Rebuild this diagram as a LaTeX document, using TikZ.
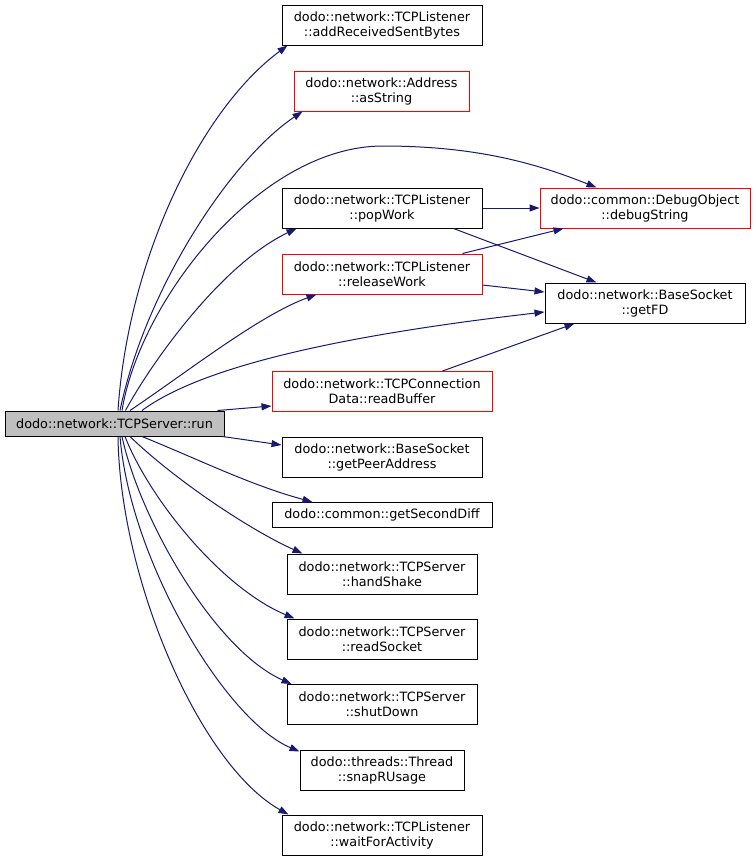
\documentclass[tikz,border=0pt]{standalone}
\usepackage{fontspec}
\setmainfont{DejaVu Sans}
\usetikzlibrary{arrows.meta,calc}
\definecolor{edgecol}{HTML}{191970}
\definecolor{nodered}{HTML}{FF0000}
\definecolor{rungrey}{HTML}{BFBFBF}
\begin{document}
\begin{tikzpicture}[x=0.75pt,y=-0.75pt,
  box/.style={draw=black,line width=0.75pt,inner sep=0pt,minimum height=30pt,align=center,
    font=\fontsize{9.6}{11.25}\selectfont},
  redbox/.style={box,draw=nodered},
  call/.style={draw=edgecol,line width=0.75pt,-{Triangle[length=7.5pt,width=5.25pt]}}]
\fill[white] (0,0) rectangle (756,861);
\useasboundingbox (0,0) rectangle (756,861);

\node[box,fill=rungrey,minimum width=164.25pt,minimum height=18.75pt] (run) at (114.5,423.5) {dodo::network::TCPServer::run};
\node[box,minimum width=150pt] (addr) at (382,25) {dodo::network::TCPListener\\::addReceivedSentBytes};
\node[redbox,minimum width=131.25pt] (asstr) at (381.5,91) {dodo::network::Address\\::asString};
\node[redbox,minimum width=157.5pt] (dbg) at (645,208) {dodo::common::DebugObject\\::debugString};
\node[box,minimum width=150pt] (pop) at (382,208) {dodo::network::TCPListener\\::popWork};
\node[redbox,minimum width=150pt] (rel) at (382,274) {dodo::network::TCPListener\\::releaseWork};
\node[box,minimum width=150pt] (fd) at (645,303) {dodo::network::BaseSocket\\::getFD};
\node[redbox,minimum width=165pt] (rbuf) at (382,391.5) {dodo::network::TCPConnection\\Data::readBuffer};
\node[box,minimum width=150pt] (peer) at (382,457) {dodo::network::BaseSocket\\::getPeerAddress};
\node[box,minimum width=165pt,minimum height=18.75pt] (sec) at (382,515) {dodo::common::getSecondDiff};
\node[box,minimum width=142.5pt] (hs) at (382,574) {dodo::network::TCPServer\\::handShake};
\node[box,minimum width=142.5pt] (rs) at (382,639) {dodo::network::TCPServer\\::readSocket};
\node[box,minimum width=142.5pt] (sd) at (382,704.5) {dodo::network::TCPServer\\::shutDown};
\node[box,minimum width=123pt] (snap) at (382,770) {dodo::threads::Thread\\::snapRUsage};
\node[box,minimum width=150pt] (wait) at (382,835) {dodo::network::TCPListener\\::waitForActivity};

\coordinate (peak) at (383,146);

\draw[call] ($(run.north)+(3.5,0)$) .. controls (128,260) and (200,110) .. ($(addr.south west)+(6,0)$);
\draw[call] ($(run.north)+(5.5,0)$) .. controls (145,290) and (230,160) .. ($(asstr.south west)+(9,0)$);
\draw[call] ($(run.north)+(7.5,0)$) .. controls (140,300) and (260,146) .. (peak)
            .. controls (480,146) and (540,165) .. ($(dbg.north west)+(57,0)$);
\draw[call] ($(run.north)+(11,0)$) .. controls (150,365) and (220,265) .. ($(pop.south west)+(15,0)$);
\draw[call] ($(run.north)+(15.5,0)$) .. controls (190,370) and (260,315) .. ($(rel.south west)+(35,0)$);
\draw[call] ($(run.north)+(27.5,0)$) .. controls (190,375) and (300,340) .. ($(fd.west)+(0,9)$);
\draw[call] ($(run.north east)+(-7,0)$) -- ($(rbuf.west)+(0,14.5)$);
\draw[call] ($(run.south east)+(-2,0)$) -- ($(peer.west)+(0,-12)$);
\draw[call] ($(run.south)+(27.5,0)$) .. controls (200,460) and (250,485) .. ($(sec.north west)+(41,0)$);
\draw[call] ($(run.south)+(15.5,0)$) .. controls (175,480) and (250,530) .. ($(hs.north west)+(16,0)$);
\draw[call] ($(run.south)+(10.5,0)$) .. controls (150,500) and (222,588) .. ($(rs.north west)+(8,0)$);
\draw[call] ($(run.south)+(7.5,0)$) .. controls (140,520) and (215,650) .. ($(sd.north west)+(5,0)$);
\draw[call] ($(run.south)+(5.5,0)$) .. controls (130,560) and (225,720) .. ($(snap.north west)+(0,2)$);
\draw[call] ($(run.south)+(3.5,0)$) .. controls (120,580) and (200,765) .. ($(wait.north west)+(7,0)$);
\draw[call] (pop.east) -- (dbg.west);
\draw[call] ($(pop.south east)+(-29,0)$) -- ($(fd.north west)+(52,0)$);
\draw[call] ($(rel.north east)+(-20,0)$) -- ($(dbg.south west)+(24,0)$);
\draw[call] ($(rel.east)+(0,11)$) -- ($(fd.west)+(0,-11)$);
\draw[call] ($(rbuf.north east)+(-50,0)$) -- ($(fd.south west)+(30,0)$);
\end{tikzpicture}
\end{document}
